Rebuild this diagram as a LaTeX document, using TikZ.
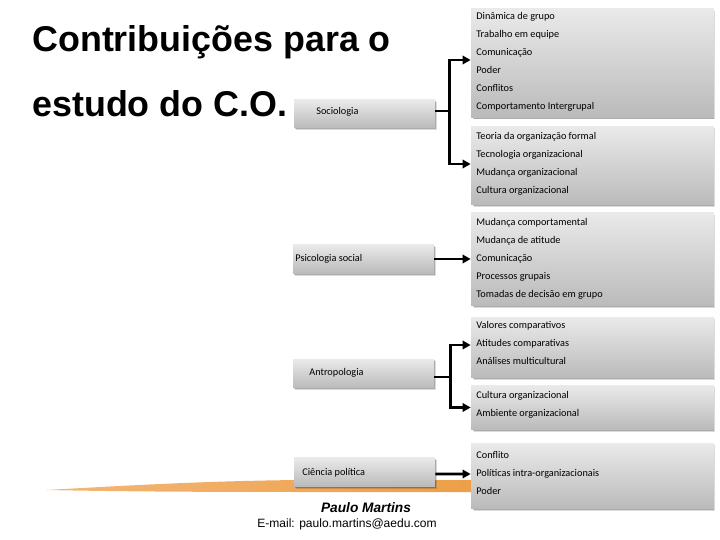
\documentclass[tikz,border=0pt]{standalone}
\usepackage{fontspec}
\setmainfont{Carlito}
\newfontfamily\arialfont{Liberation Sans}
\usetikzlibrary{shadows,arrows.meta}
\definecolor{boxtop}{HTML}{EAEAEA}
\definecolor{boxbot}{HTML}{BABABA}
\definecolor{swoosh}{HTML}{EE9F48}
\tikzset{
    caixa/.style={rectangle, inner sep=0pt, top color=boxtop, bottom color=boxbot,
        drop shadow={shadow xshift=1.1pt, shadow yshift=-1.3pt, shadow scale=0.995, opacity=0.14, fill=black},
        drop shadow={shadow xshift=0.6pt, shadow yshift=-0.8pt, shadow scale=0.995, opacity=0.22, fill=black}},
    item/.style={anchor=west, inner sep=0pt, font=\fontsize{5.85}{7}\selectfont, text height=4.2pt, text depth=1.3pt},
    titulo/.style={anchor=base west, inner sep=0pt, font=\arialfont\bfseries\fontsize{20.4}{24}\selectfont},
    ligacao/.style={line width=1.7pt, -{Triangle[length=4.6pt,width=4.8pt]}}
}
\begin{document}
\begin{tikzpicture}[x=0.02cm, y=-0.02cm]
    \useasboundingbox (0,0) rectangle (720,540);

    % Title
    \node[titulo] (tit1) at (32,52) {Contribuições para o};
    \node[titulo] (tit2) at (32,117) {estudo do C.O.};

    % Orange band
    \shade[left color=swoosh!75, middle color=swoosh, right color=swoosh]
        (46,490) .. controls (120,486) and (200,481) .. (300,480) -- (472,480) -- (472,492) -- (300,492) .. controls (200,492) and (120,491.5) .. (46,490) -- cycle;

    % Boxes on the right
    \node[caixa, minimum width=4.86cm, minimum height=2.18cm] (din) at (592.5,63) {};
    \node[caixa, minimum width=4.86cm, minimum height=1.58cm] (teo) at (592.5,165.5) {};
    \node[caixa, minimum width=4.86cm, minimum height=1.88cm] (mud) at (592.5,259) {};
    \node[caixa, minimum width=4.86cm, minimum height=1.22cm] (val) at (592.5,347.5) {};
    \node[caixa, minimum width=4.86cm, minimum height=0.9cm] (cul) at (592.5,407.5) {};
    \node[caixa, minimum width=4.86cm, minimum height=1.32cm] (con) at (592.5,476) {};

    % Boxes on the left
    \node[caixa, minimum width=2.82cm, minimum height=0.56cm] (soc) at (364.5,114) {};
    \node[caixa, minimum width=2.82cm, minimum height=0.58cm] (psi) at (363.5,259) {};
    \node[caixa, minimum width=2.82cm, minimum height=0.58cm] (ant) at (363.5,373.5) {};
    \node[caixa, minimum width=2.82cm, minimum height=0.58cm] (cie) at (364.5,472) {};

    % Labels on the left
    \node[item] (lsoc) at (316,112) {Sociologia};
    \node[item] (lpsi) at (295,259) {Psicologia social};
    \node[item] (lant) at (309,373) {Antropologia};
    \node[item] (lcie) at (302,473) {Ciência política};

    % Lists on the right
    \foreach \y/\txt in {17/Dinâmica de grupo, 35/Trabalho em equipe, 53/Comunicação, 71/Poder,
        89/Conflitos, 107/Comportamento Intergrupal, 137/Teoria da organização formal,
        155/Tecnologia organizacional, 173/Mudança organizacional, 191/Cultura organizacional,
        223/Mudança comportamental, 241/Mudança de atitude, 259/Comunicação, 277/Processos grupais,
        295/Tomadas de decisão em grupo, 326/Valores comparativos, 344/Atitudes comparativas,
        362/Análises multicultural, 396/Cultura organizacional, 414/Ambiente organizacional,
        456/Conflito, 474/Políticas intra-organizacionais, 492/Poder} {
        \node[item] (it\y) at (476,\y) {\txt};
    }

    % Connectors
    \draw[ligacao] ([yshift=0.06cm]soc.east) -- ++(14,0) |- ([yshift=0.06cm]din.west);
    \draw[ligacao] ([yshift=0.06cm]soc.east) -- ++(14,0) |- ([yshift=0.03cm]teo.west);
    \draw[ligacao] (psi.east) -- (mud.west);
    \draw[ligacao] ([yshift=-0.07cm]ant.east) -- ++(16,0) |- ([yshift=0.05cm]val.west);
    \draw[ligacao] ([yshift=-0.07cm]ant.east) -- ++(16,0) |- (cul.west);
    \draw[ligacao] ([yshift=-0.04cm]cie.east) -- ([yshift=0.04cm]con.west);

    % Footer
    \node[inner sep=0pt, font=\arialfont\bfseries\itshape\fontsize{7.8}{9}\selectfont] (autor) at (366,508) {Paulo Martins};
    \node[inner sep=0pt, font=\arialfont\fontsize{6.85}{9}\selectfont] (mail) at (347,524) {E-mail: paulo.martins@aedu.com};
\end{tikzpicture}
\end{document}
